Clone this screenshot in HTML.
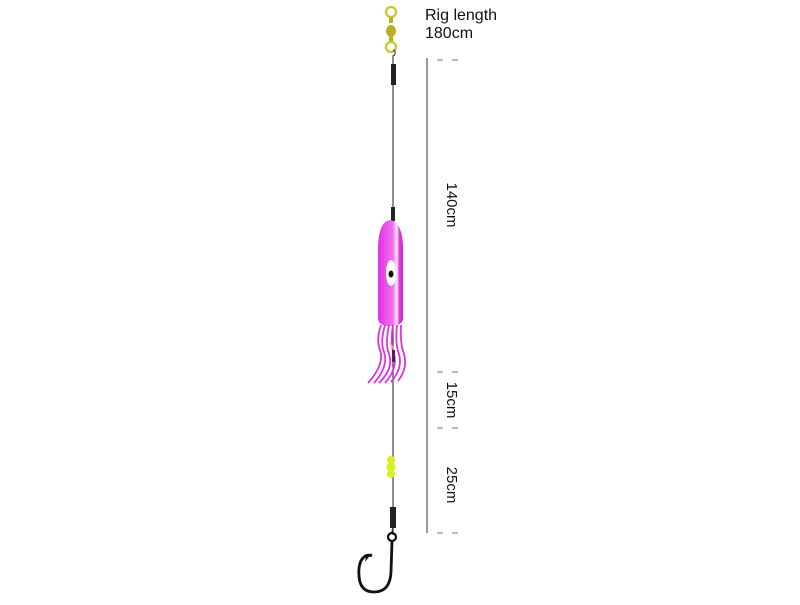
<!DOCTYPE html>
<html><head><style>
body{margin:0;background:#fff;width:800px;height:600px;overflow:hidden;font-family:"Liberation Sans",sans-serif}
</style></head><body>
<svg width="800" height="600" viewBox="0 0 800 600" xmlns="http://www.w3.org/2000/svg">
<defs>
<linearGradient id="g" x1="0" x2="1">
<stop offset="0" stop-color="#e030e0"/><stop offset="0.6" stop-color="#f070f0"/><stop offset="0.75" stop-color="#fff0ff"/><stop offset="0.85" stop-color="#e040e0"/><stop offset="1" stop-color="#d020d0"/>
</linearGradient>
</defs>
<line x1="393" y1="55" x2="393" y2="535" stroke="#444" stroke-width="1.2"/>
<circle cx="391" cy="12" r="5" fill="none" stroke="#c8c820" stroke-width="2.2"/>
<rect x="389" y="17" width="4" height="6" fill="#b8b020"/>
<ellipse cx="391" cy="31" rx="5" ry="6" fill="#b8b020"/>
<rect x="389" y="37" width="4" height="5" fill="#b8b020"/>
<circle cx="391" cy="47" r="5" fill="none" stroke="#c8c820" stroke-width="2.2"/>
<path d="M394 56 Q397 51 393 50" fill="none" stroke="#333" stroke-width="1"/>
<rect x="391" y="64" width="5" height="21" fill="#222"/>
<rect x="391" y="207" width="4" height="14" fill="#222"/>
<path d="M390 220 Q378 222 378 250 L378 318 Q378 326 390 326 Q403 326 403 318 L403 250 Q403 222 390 220Z" fill="url(#g)"/>
<ellipse cx="391" cy="273" rx="5" ry="13" fill="#fff"/>
<ellipse cx="391" cy="274" rx="2.5" ry="3.5" fill="#111"/>
<g fill="none" stroke="#e030e0" stroke-width="1.8">
<path d="M381 325 Q376 340 380 350 Q385 364 368 383"/>
<path d="M385 325 Q380 342 384 352 Q389 366 374 383"/>
<path d="M389 325 Q385 344 389 354 Q394 368 379 383"/>
<path d="M393 325 Q390 344 394 354 Q398 368 385 383"/>
<path d="M397 325 Q395 344 399 354 Q403 368 391 382"/>
<path d="M401 325 Q400 344 404 354 Q408 368 398 381"/>
</g>
<path d="M390 343 L393 348" stroke="#f0c020" stroke-width="1.5"/>
<rect x="392" y="350" width="3" height="12" fill="#5a1a5a"/>
<circle cx="391" cy="460" r="4" fill="#d8f020"/>
<circle cx="391" cy="467" r="4.5" fill="#d8f020"/>
<circle cx="391" cy="474" r="4" fill="#d8f020"/>
<rect x="390" y="507" width="6" height="21" fill="#222"/>
<path d="M393 528 L392 532" stroke="#333" stroke-width="1.5"/>
<circle cx="392" cy="537" r="4" fill="none" stroke="#111" stroke-width="2.2"/>
<path d="M392 541 L391 572 Q390 592 374 592 Q360 592 359 576 Q358 562 364 557 Q368 554 372 556" fill="none" stroke="#111" stroke-width="2.8"/>
<path d="M372 553 L365 562 L366 556Z" fill="#111"/>
<line x1="427" y1="58" x2="427" y2="533" stroke="#555" stroke-width="1.2"/>
<g stroke="#777" stroke-width="1">
<line x1="437" y1="60" x2="443" y2="60"/><line x1="452" y1="60" x2="458" y2="60"/>
<line x1="437" y1="372" x2="443" y2="372"/><line x1="452" y1="372" x2="458" y2="372"/>
<line x1="437" y1="428" x2="443" y2="428"/><line x1="452" y1="428" x2="458" y2="428"/>
<line x1="437" y1="533" x2="443" y2="533"/><line x1="452" y1="533" x2="458" y2="533"/>
</g>
<g font-size="14" fill="#111">
<text x="425" y="20" font-size="16">Rig length</text>
<text x="425" y="38" font-size="16">180cm</text>
<text transform="translate(447,205) rotate(90)" text-anchor="middle" font-size="15">140cm</text>
<text transform="translate(447,400) rotate(90)" text-anchor="middle" font-size="15">15cm</text>
<text transform="translate(447,485) rotate(90)" text-anchor="middle" font-size="15">25cm</text>
</g>
</svg>
</body></html>
